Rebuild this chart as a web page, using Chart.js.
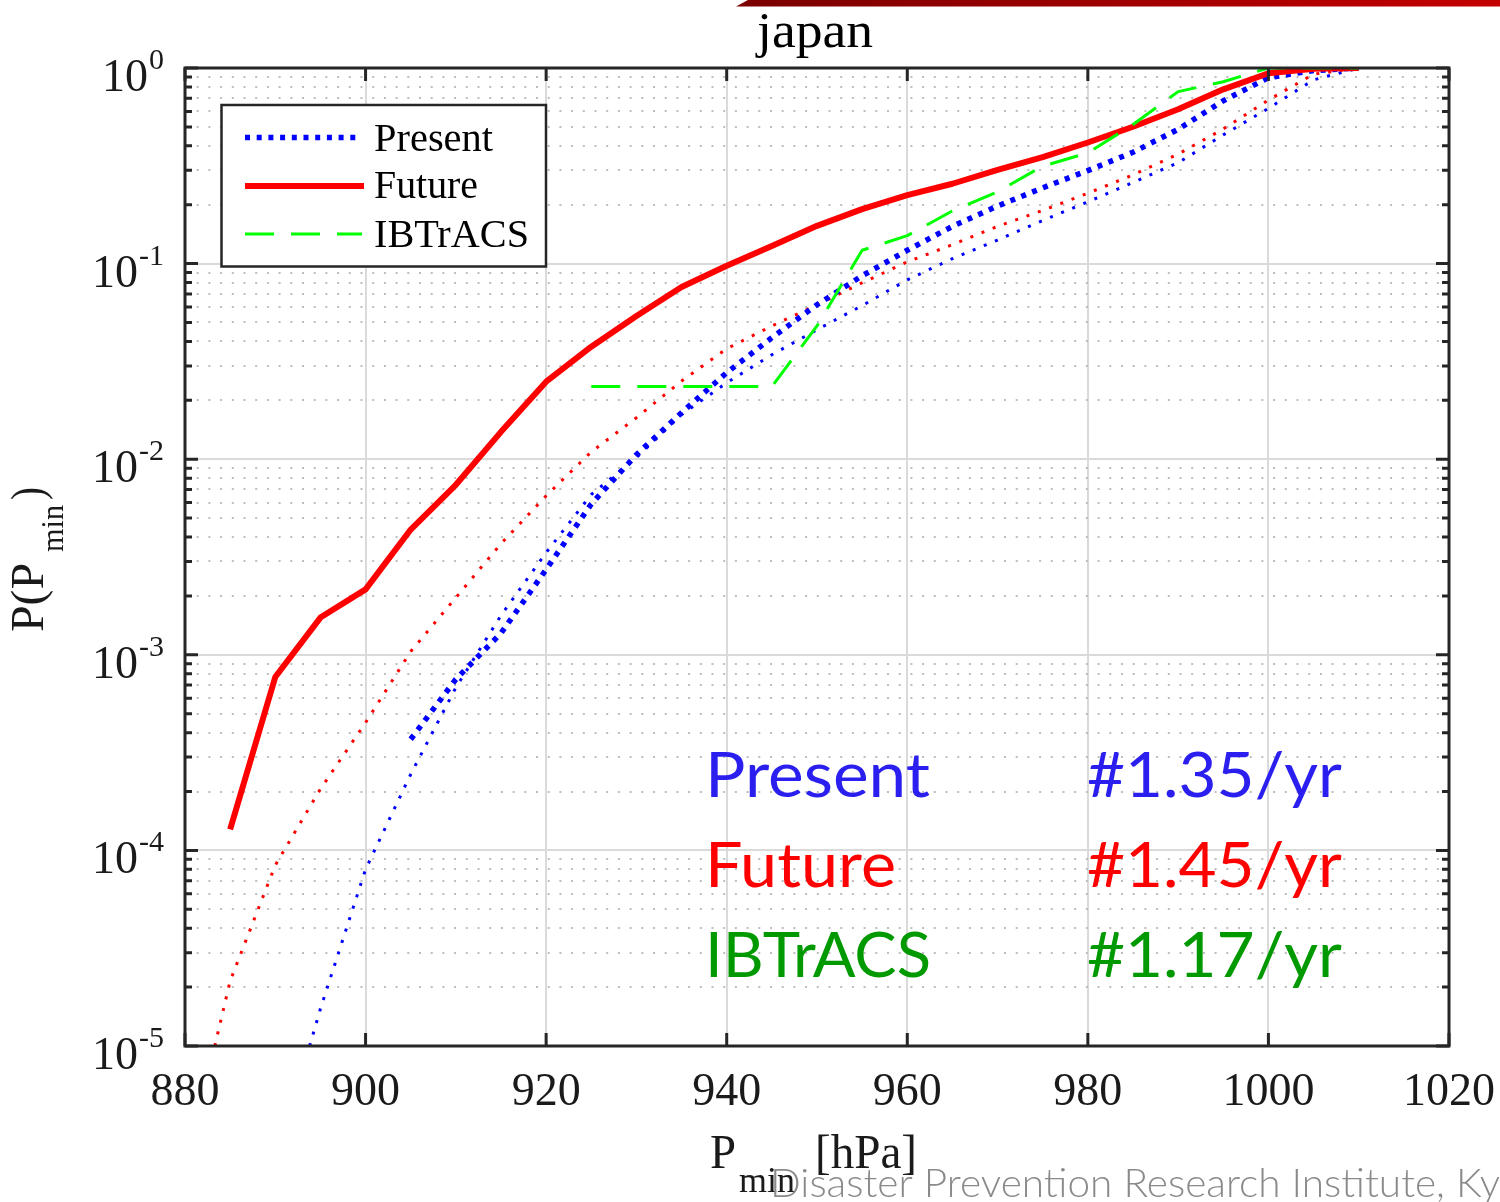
<!DOCTYPE html>
<html>
<head>
<meta charset="utf-8">
<script src="https://cdn.jsdelivr.net/npm/chart.js@4/dist/chart.umd.min.js"></script>
<style>
html, body { margin: 0; padding: 0; background: #fff; }
</style>
</head>
<body>
<canvas id="myChart" width="1500" height="1202"></canvas>
<script>
// ---- data ----
var xTicks = [880, 900, 920, 940, 960, 980, 1000, 1020];
var xTickLabels = ['880', '900', '920', '940', '960', '980', '1000', '1020'];
var yDecades = [1e-5, 1e-4, 1e-3, 1e-2, 1e-1, 1];
var yExponents = ['-5', '-4', '-3', '-2', '-1', '0'];
var yMinorSteps = [1, 2, 3, 4, 5, 6, 7, 8, 9];

// Present (thick dotted blue)
var presentP = [905, 910, 915, 920, 925, 930, 935, 940, 945, 950, 955, 960, 965, 970, 975, 980, 985, 990, 995, 1000, 1005, 1010];
var presentProb = [3.7e-4, 7.5e-4, 1.29e-3, 2.73e-3, 5.9e-3, 1.055e-2, 1.73e-2, 2.77e-2, 4.18e-2, 6.16e-2, 8.67e-2, 0.117, 0.155, 0.197, 0.244, 0.299, 0.371, 0.486, 0.68, 0.893, 0.97, 1.0];

// Future (thick solid red)
var futureP = [885, 890, 895, 900, 905, 910, 915, 920, 925, 930, 935, 940, 945, 950, 955, 960, 965, 970, 975, 980, 985, 990, 995, 1000, 1005, 1010];
var futureProb = [1.28e-4, 7.7e-4, 1.55e-3, 2.16e-3, 4.37e-3, 7.4e-3, 1.38e-2, 2.49e-2, 3.76e-2, 5.4e-2, 7.6e-2, 9.75e-2, 0.123, 0.156, 0.19, 0.224, 0.256, 0.301, 0.35, 0.416, 0.501, 0.615, 0.778, 0.94, 0.99, 1.0];

// IBTrACS (dashed green)
var ibtracsP = [925, 945, 950, 955, 960, 965, 970, 975, 980, 985, 990, 995, 1000, 1010];
var ibtracsProb = [0.0235, 0.0235, 0.048, 0.117, 0.139, 0.186, 0.233, 0.315, 0.368, 0.514, 0.757, 0.851, 1.0, 1.0];

// fitted curves (thin dotted)
var presentFitP = [893.8, 895, 900, 905, 910, 915, 920, 925, 930, 935, 940, 945, 950, 955, 960, 965, 970, 975, 980, 985, 990, 995, 1000, 1005, 1010];
var presentFitProb = [1e-5, 1.55e-5, 8.0e-5, 2.45e-4, 6.8e-4, 1.59e-3, 3.33e-3, 6.6e-3, 1.02e-2, 1.69e-2, 2.46e-2, 3.42e-2, 4.59e-2, 6.1e-2, 8.26e-2, 0.106, 0.132, 0.166, 0.207, 0.26, 0.328, 0.455, 0.622, 0.87, 1.0];
var futureFitP = [883.3, 885, 890, 895, 900, 905, 910, 915, 920, 925, 930, 935, 940, 945, 950, 955, 960, 965, 970, 975, 980, 985, 990, 995, 1000, 1005, 1010];
var futureFitProb = [1e-5, 2.15e-5, 8.4e-5, 2.06e-4, 4.5e-4, 1.04e-3, 1.96e-3, 3.7e-3, 6.5e-3, 1.09e-2, 1.63e-2, 2.51e-2, 3.67e-2, 4.8e-2, 6.16e-2, 7.98e-2, 0.102, 0.125, 0.155, 0.187, 0.229, 0.284, 0.363, 0.488, 0.686, 0.93, 1.0];

var legendLabels = ['Present', 'Future', 'IBTrACS'];
var rateNames = ['Present', 'Future', 'IBTrACS'];
var rateValues = ['#1.35/yr', '#1.45/yr', '#1.17/yr'];

function pts(xs, ys) {
    return xs.map(function (x, i) { return { x: x, y: ys[i] }; });
}

var yTickList = [];
yDecades.forEach(function (d, i) {
    if (i == yDecades.length - 1) { yTickList.push({ value: d, major: true }); return; }
    yMinorSteps.forEach(function (m) { yTickList.push({ value: m * d, major: m == 1 }); });
});

// draws text squeezed/stretched to a given width
function fitText(c, str, x, y, w, font, color) {
    c.save();
    c.font = font;
    c.fillStyle = color;
    c.textAlign = 'left';
    c.textBaseline = 'alphabetic';
    var s = w / c.measureText(str).width;
    c.translate(x, y);
    c.scale(s, 1);
    c.fillText(str, 0, 0);
    c.restore();
}

var SERIF = 'Liberation Serif';
var AXIS = '#262626';

var decor = {
    id: 'decor',
    beforeDraw: function (chart) {
        var c = chart.ctx;
        c.save();
        c.fillStyle = '#fff';
        c.fillRect(0, 0, chart.width, chart.height);
        // slide banner at the top right
        var g = c.createLinearGradient(736, 0, 1500, 0);
        g.addColorStop(0, '#7a0000');
        g.addColorStop(1, '#c40000');
        c.fillStyle = g;
        c.beginPath();
        c.moveTo(748, 0); c.lineTo(1500, 0); c.lineTo(1500, 6.5); c.lineTo(736, 6.5);
        c.closePath();
        c.fill();
        c.restore();
    },
    afterDraw: function (chart) {
        var c = chart.ctx, a = chart.chartArea;
        var xs = chart.scales.x, ys = chart.scales.y;
        c.save();

        // inward ticks + box
        c.strokeStyle = AXIS;
        c.lineWidth = 3;
        c.beginPath();
        ys.ticks.forEach(function (t) {
            var y = ys.getPixelForValue(t.value);
            var len = t.major ? 13 : 7;
            c.moveTo(a.left, y); c.lineTo(a.left + len, y);
            c.moveTo(a.right, y); c.lineTo(a.right - len, y);
        });
        xs.ticks.forEach(function (t) {
            var x = xs.getPixelForValue(t.value);
            c.moveTo(x, a.bottom); c.lineTo(x, a.bottom - 13);
            c.moveTo(x, a.top); c.lineTo(x, a.top + 13);
        });
        c.stroke();
        c.strokeRect(a.left, a.top, a.right - a.left, a.bottom - a.top);

        // y tick labels 10^n
        c.fillStyle = '#1a1a1a';
        c.textBaseline = 'alphabetic';
        c.textAlign = 'right';
        yDecades.forEach(function (d, i) {
            var y = ys.getPixelForValue(d);
            c.font = '30px ' + SERIF;
            var ew = c.measureText(yExponents[i]).width;
            c.fillText(yExponents[i], 164, y + 1);
            c.font = '46px ' + SERIF;
            c.fillText('10', 164 - ew - 1, y + 23);
        });

        // title
        fitText(c, 'japan', 757, 47, 116, '50px ' + SERIF, '#000');

        // x label
        fitText(c, 'P', 710, 1168, 26, '48px ' + SERIF, '#1a1a1a');
        fitText(c, 'min', 739, 1192, 56, '36px ' + SERIF, '#1a1a1a');
        fitText(c, '[hPa]', 815, 1168, 102, '48px ' + SERIF, '#1a1a1a');

        // y label (rotated)
        c.save();
        c.translate(43, 632);
        c.rotate(-Math.PI / 2);
        fitText(c, 'P(P', 0, 0, 69, '46px ' + SERIF, '#1a1a1a');
        fitText(c, 'min', 80, 20, 47, '32px ' + SERIF, '#1a1a1a');
        fitText(c, ')', 132, 0, 13, '46px ' + SERIF, '#1a1a1a');
        c.restore();

        // legend box
        c.fillStyle = '#fff';
        c.fillRect(221.5, 105, 324.5, 161.5);
        c.strokeStyle = AXIS;
        c.lineWidth = 2.5;
        c.strokeRect(221.5, 105, 324.5, 161.5);
        var samples = [
            { y: 137.5, x2: 357, color: '#0000ff', w: 5.5, dash: [5, 6.7] },
            { y: 186, x2: 364, color: '#ff0000', w: 6, dash: [] },
            { y: 234, x2: 362, color: '#00ff00', w: 3, dash: [29, 17] }
        ];
        var legendW = [119, 104, 155];
        var legendBase = [151, 198, 247];
        samples.forEach(function (s, i) {
            c.beginPath();
            c.setLineDash(s.dash);
            c.lineCap = 'butt';
            c.strokeStyle = s.color;
            c.lineWidth = s.w;
            c.moveTo(245, s.y); c.lineTo(s.x2, s.y);
            c.stroke();
            c.setLineDash([]);
            fitText(c, legendLabels[i], 374, legendBase[i], legendW[i], '40px ' + SERIF, '#000');
        });

        // event rates
        var rateColors = ['#2b1ff0', '#ff0000', '#009a00'];
        var nameW = [225, 191, 226];
        var rateBase = [797, 887, 977];
        rateNames.forEach(function (n, i) {
            fitText(c, n, 705, rateBase[i], nameW[i], '62px Lato', rateColors[i]);
            fitText(c, rateValues[i], 1087, rateBase[i], 255, '62px Lato', rateColors[i]);
        });

        // footer
        fitText(c, 'Disaster Prevention Research Institute, Ky', 770, 1197, 730, '300 40px Lato', '#8a8a8a');

        c.restore();
    }
};

var ctx = document.getElementById("myChart").getContext("2d");

var myChart = new Chart(ctx, {
    type: 'line',
    data: {
        datasets: [
            { label: 'IBTrACS', data: pts(ibtracsP, ibtracsProb), borderColor: '#00ff00', borderWidth: 3, borderDash: [29, 17], order: 0 },
            { label: 'Future', data: pts(futureP, futureProb), borderColor: '#ff0000', borderWidth: 6, order: 1 },
            { label: 'Present', data: pts(presentP, presentProb), borderColor: '#0000ff', borderWidth: 5.5, borderDash: [5, 6.7], order: 2 },
            { label: 'Future fit', data: pts(futureFitP, futureFitProb), borderColor: '#ff0000', borderWidth: 3, borderDash: [3, 9], order: 3 },
            { label: 'Present fit', data: pts(presentFitP, presentFitProb), borderColor: '#0000ff', borderWidth: 3, borderDash: [3, 9], order: 4 }
        ]
    },
    options: {
        responsive: false,
        maintainAspectRatio: false,
        animation: false,
        events: [],
        layout: { padding: { left: 0, right: 51, top: 68, bottom: 0 } },
        elements: {
            point: { radius: 0 },
            line: { tension: 0, fill: false, borderCapStyle: 'butt', borderJoinStyle: 'round' }
        },
        plugins: {
            legend: { display: false },
            tooltip: { enabled: false },
            title: { display: false }
        },
        scales: {
            x: {
                type: 'linear',
                min: 880,
                max: 1020,
                afterBuildTicks: function (scale) {
                    scale.ticks = xTicks.map(function (v) { return { value: v }; });
                },
                afterFit: function (scale) {
                    scale.height = 156;
                    scale.paddingLeft = 0;
                    scale.paddingRight = 0;
                },
                ticks: {
                    autoSkip: false,
                    maxRotation: 0,
                    padding: 24,
                    color: '#1a1a1a',
                    font: { family: SERIF, size: 46, lineHeight: 1 },
                    callback: function (v, i) { return xTickLabels[i]; }
                },
                grid: { color: '#dadada', lineWidth: 2, drawTicks: false },
                border: { display: false }
            },
            y: {
                type: 'logarithmic',
                min: 1e-5,
                max: 1,
                afterBuildTicks: function (scale) {
                    scale.ticks = yTickList.map(function (t) { return { value: t.value, major: t.major }; });
                },
                afterFit: function (scale) { scale.width = 185; },
                ticks: { display: false, autoSkip: false },
                grid: {
                    color: function (c) { return c.tick && c.tick.major ? '#dadada' : '#bdbdbd'; },
                    lineWidth: 2,
                    drawTicks: false
                },
                border: {
                    display: false,
                    dash: function (c) { return c.tick && !c.tick.major ? [2, 9.7] : []; }
                }
            }
        }
    },
    plugins: [decor]
});
</script>
</body>
</html>
